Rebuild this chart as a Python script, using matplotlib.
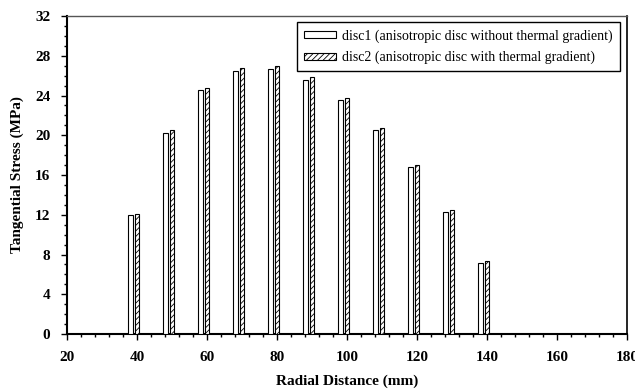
import matplotlib
matplotlib.use("Agg")
import matplotlib.pyplot as plt
import numpy as np
from matplotlib.ticker import MultipleLocator

radial = [40, 50, 60, 70, 80, 90, 100, 110, 120, 130, 140]
disc1 = [12.0, 20.25, 24.6, 26.5, 26.7, 25.6, 23.55, 20.55, 16.77, 12.3, 7.17]
disc2 = [12.05, 20.5, 24.8, 26.76, 27.0, 25.9, 23.8, 20.75, 17.03, 12.44, 7.31]
labels = ["disc1 (anisotropic disc without thermal gradient)",
          "disc2 (anisotropic disc with thermal gradient)"]

plt.rcParams['font.family'] = ['Liberation Serif', 'DejaVu Serif']
plt.rcParams['hatch.color'] = '#555555'
plt.rcParams['hatch.linewidth'] = 0.6

fig = plt.figure(figsize=(6.35, 3.92), dpi=100)
ax = fig.add_axes([0.1055, 0.148, 0.882, 0.811])

x = np.array(radial, dtype=float)
w = 1.3
ax.bar(x - 1.8, disc1, width=w, facecolor='white', edgecolor='black',
       linewidth=0.8, label=labels[0], zorder=3)
ax.bar(x, disc2, width=w, facecolor='white', edgecolor='black',
       linewidth=0.8, hatch='//////', label=labels[1], zorder=3)

ax.set_xlim(20, 180)
ax.set_ylim(0, 32)
ax.xaxis.set_major_locator(MultipleLocator(20))
ax.xaxis.set_minor_locator(MultipleLocator(4))
ax.yaxis.set_major_locator(MultipleLocator(4))
ax.yaxis.set_minor_locator(MultipleLocator(1))
ax.tick_params(axis='both', which='major', direction='out', length=4, width=1,
               labelsize=11, pad=8)
ax.tick_params(axis='both', which='minor', direction='out', length=2.5, width=1)
for lab in ax.get_xticklabels() + ax.get_yticklabels():
    lab.set_fontweight('bold')

for s in ['left', 'bottom']:
    ax.spines[s].set_linewidth(1.5)
ax.spines['right'].set_linewidth(1.2)
ax.spines['top'].set_linewidth(1.0)
ax.spines['top'].set_color('#555555')

ax.set_xlabel('Radial Distance (mm)', fontsize=11, fontweight='bold', labelpad=8)
ax.set_ylabel('Tangential Stress (MPa)', fontsize=11, fontweight='bold', labelpad=8)

leg = ax.legend(loc='upper right', bbox_to_anchor=(0.9875, 0.981), borderaxespad=0,
                fontsize=10, fancybox=False, framealpha=1, edgecolor='black',
                handlelength=2.3, handleheight=0.4, handletextpad=0.5,
                labelspacing=0.6, borderpad=0.5)
leg.get_frame().set_linewidth(1.0)

fig.savefig('out.png', dpi=100)
